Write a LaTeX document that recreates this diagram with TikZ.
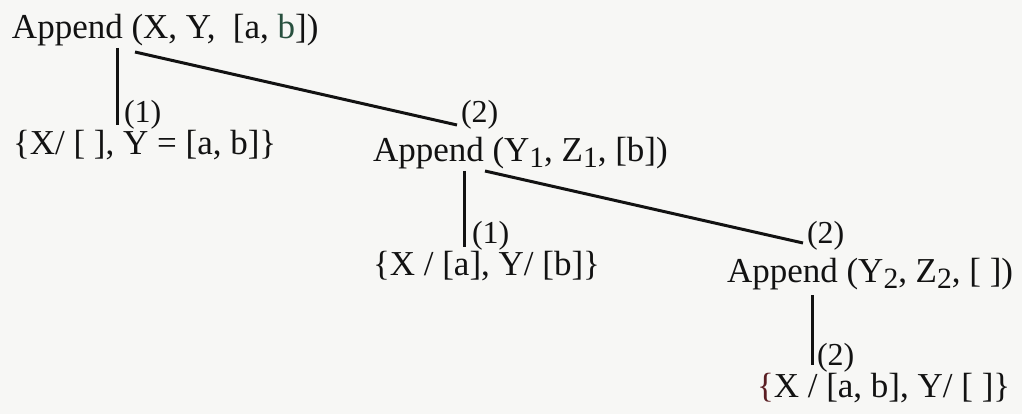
\documentclass[tikz,border=0pt]{standalone}
\usepackage{fontspec}
\setmainfont{Liberation Serif}
\definecolor{paper}{RGB}{247,247,245}
\definecolor{ink}{RGB}{18,18,18}
\definecolor{greenb}{RGB}{40,80,62}
\definecolor{redbrace}{RGB}{90,30,35}
\newcommand\subs[1]{\raisebox{-6pt}{\fontsize{29.5}{30}\selectfont #1}}
\begin{document}
\begin{tikzpicture}[x=1pt,y=1pt,
  term/.style={anchor=base west,inner sep=0pt,outer sep=0pt,text=ink,font=\fontsize{35}{40}\selectfont},
  rulelbl/.style={anchor=base west,inner sep=0pt,outer sep=0pt,text=ink,font=\fontsize{32}{36}\selectfont},
  edge/.style={draw=ink,line width=3pt}]
\path[fill=paper] (0,0) rectangle (1022,-414);
\useasboundingbox (0,0) rectangle (1022,-414);

% nodes
\node[term] (root)  at (12,-39)  {Append (X, Y,~~[a, \textcolor{greenb}{b}])};
\node[term] (leaf1) at (13,-155) {\{X/ [ ], Y = [a, b]\}};
\node[term] (n2)    at (373,-162) {Append (Y\subs{1}, Z\subs{1}, [b])};
\node[term] (leaf2) at (373,-275) {\{X / [a], Y/ [b]\}};
\node[term] (n3)    at (727,-282) {Append (Y\subs{2}, Z\subs{2}, [ ])};
\node[term] (leaf3) at (757,-397) {\textcolor{redbrace}{\{}X / [a, b], Y/ [ ]\}};

% rule labels
\node[rulelbl] (l1) at (124,-123) {(1)};
\node[rulelbl] (l2) at (461,-123) {(2)};
\node[rulelbl] (l3) at (472,-243) {(1)};
\node[rulelbl] (l4) at (807,-243) {(2)};
\node[rulelbl] (l5) at (817,-365) {(2)};

% connectors
\draw[edge] ([shift={(105,-9)}]root.base west) -- ([shift={(104,30)}]leaf1.base west);
\draw[edge] ([shift={(123,-13)}]root.base west) -- ([shift={(84,37)}]n2.base west);
\draw[edge] ([shift={(91,-9)}]n2.base west) -- ([shift={(91,28)}]leaf2.base west);
\draw[edge] ([shift={(112,-9)}]n2.base west) -- ([shift={(76,39)}]n3.base west);
\draw[edge] ([shift={(85,-13)}]n3.base west) -- ([shift={(55,32)}]leaf3.base west);
\end{tikzpicture}
\end{document}
